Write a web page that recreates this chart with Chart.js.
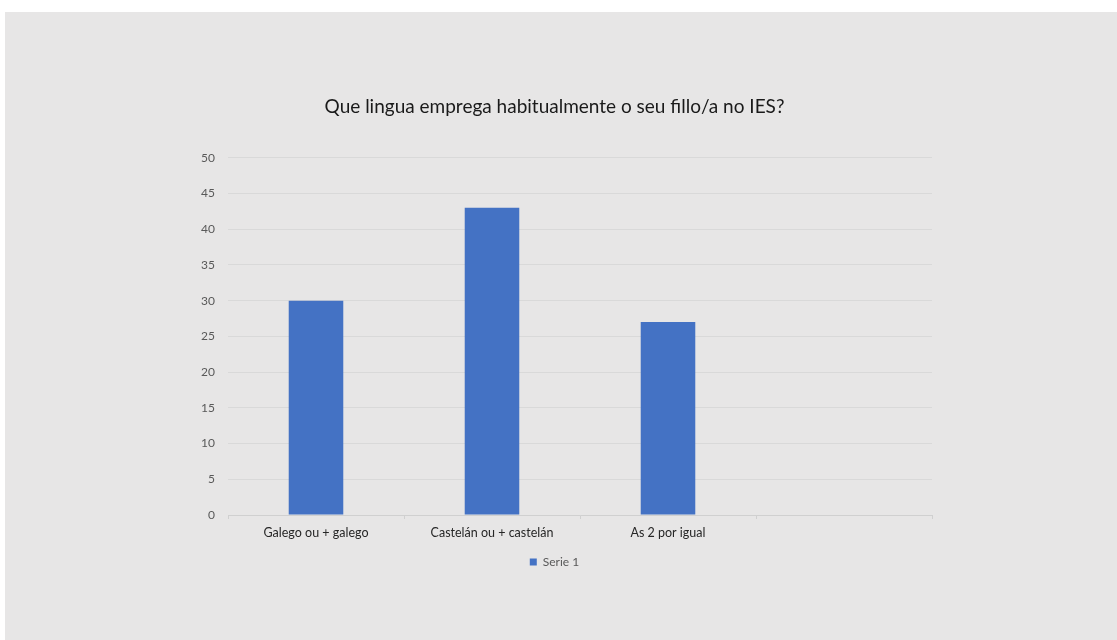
<!DOCTYPE html>
<html>
<head>
<meta charset="utf-8">
<script src="https://cdn.jsdelivr.net/npm/chart.js@4"></script>
<style>
  html, body { margin: 0; padding: 0; background: #ffffff; }
  #wrap { position: absolute; left: 5px; top: 12px; width: 1112px; height: 628px; background: #e7e6e6; }
</style>
</head>
<body>
<div id="wrap"><canvas id="chart"></canvas></div>
<script>
// categories and values
const categories = ['Galego ou + galego', 'Castelán ou + castelán', 'As 2 por igual', ''];
const serie1 = [30, 43, 27, null];
const yTicks = [0, 5, 10, 15, 20, 25, 30, 35, 40, 45, 50];

function makeChart() {
    const ctx = document.getElementById('chart').getContext('2d');
    const myChart = new Chart(ctx, {
        type: 'bar',
        data: {
            labels: categories,
            datasets: [{
                label: 'Serie 1',
                data: serie1,
                backgroundColor: '#4472c4',
                borderWidth: 0,
                barPercentage: 0.31,
                categoryPercentage: 1
            }]
        },
        options: {
            responsive: true,
            maintainAspectRatio: false,
            animation: false,
            layout: {
                padding: { left: 172, right: 185, top: 83, bottom: 62 }
            },
            plugins: {
                title: {
                    display: true,
                    text: 'Que lingua emprega habitualmente o seu fillo/a no IES?',
                    color: '#1a1a1a',
                    font: { family: 'Lato', size: 19, weight: 'normal' },
                    padding: { top: 0, bottom: 40 }
                },
                legend: {
                    position: 'bottom',
                    labels: {
                        color: '#595959',
                        font: { family: 'Lato', size: 12 },
                        boxWidth: 7,
                        boxHeight: 7,
                        padding: 10
                    }
                },
                tooltip: { enabled: false }
            },
            scales: {
                x: {
                    grid: {
                        offset: true,
                        drawOnChartArea: false,
                        drawTicks: true,
                        tickLength: 4,
                        color: '#d0d0d0'
                    },
                    border: { color: '#d0d0d0' },
                    ticks: {
                        color: '#262626',
                        font: { family: 'Lato', size: 12.5 },
                        padding: 6,
                        maxRotation: 0
                    }
                },
                y: {
                    min: 0,
                    max: 50,
                    afterFit: function (axis) { axis.width = 51; },
                    afterBuildTicks: function (axis) {
                        axis.ticks = yTicks.map(v => ({ value: v }));
                    },
                    grid: { color: '#d9d9d9', drawTicks: false },
                    border: { display: false },
                    ticks: {
                        color: '#595959',
                        font: { family: 'Lato', size: 12 },
                        padding: 13
                    }
                }
            }
        }
    });
}

document.addEventListener('DOMContentLoaded', makeChart);
</script>
</body>
</html>
